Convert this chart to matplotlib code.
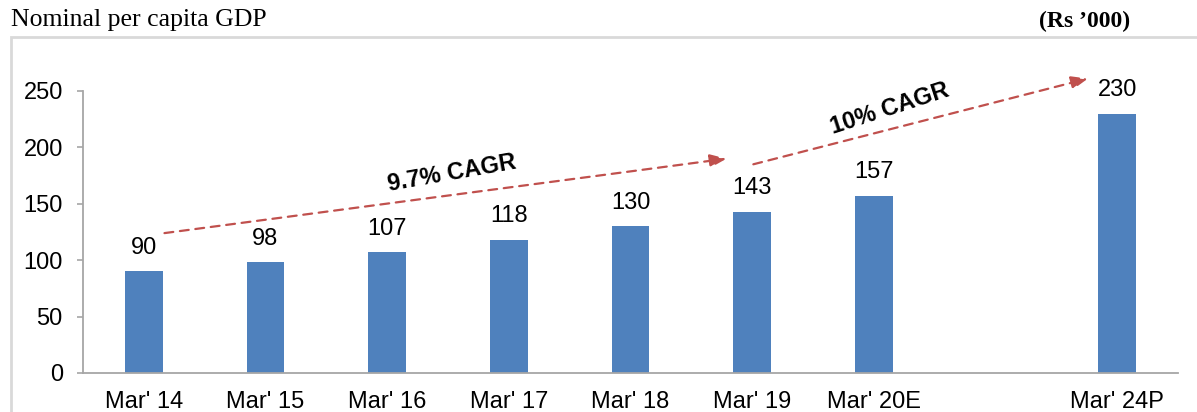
import matplotlib.pyplot as plt
from matplotlib.patches import Rectangle

# ====== Data ======
categories = ["Mar' 14", "Mar' 15", "Mar' 16", "Mar' 17", "Mar' 18",
              "Mar' 19", "Mar' 20E", "", "Mar' 24P"]
gdp = [90, 98, 107, 118, 130, 143, 157, None, 230]

cagr_labels = ["9.7% CAGR", "10% CAGR"]
# arrow start/end (x in category index, y in Rs '000)
cagr_arrows = [((0.17, 124), (4.79, 190)), ((5.01, 185), (7.76, 261))]
cagr_text_pos = [(2.53, 177), (6.13, 234)]
cagr_text_rot = [10, 18]

BAR_COLOR = '#4F81BD'
ARROW_COLOR = '#C0504D'
AXIS_COLOR = '#A6A6A6'

plt.rcParams['font.family'] = ['Liberation Sans', 'DejaVu Sans']

fig = plt.figure(figsize=(11.97, 4.12), dpi=100)
ax = fig.add_axes([0.0693, 0.0947, 0.9148, 0.6845])

xs = [i for i, v in enumerate(gdp) if v is not None]
vals = [v for v in gdp if v is not None]
ax.bar(xs, vals, width=0.31, color=BAR_COLOR)

for x, v in zip(xs, vals):
    ax.annotate(str(v), (x, v), xytext=(0, 9), textcoords='offset points',
                ha='center', va='bottom', fontsize=17)

ax.set_xlim(-0.5, len(categories) - 0.5)
ax.set_ylim(0, 250)
ax.set_yticks(range(0, 251, 50))
ax.set_xticks([i for i, c in enumerate(categories) if c])
ax.set_xticklabels([c for c in categories if c])

ax.tick_params(axis='y', length=4.5, width=1.2, color=AXIS_COLOR, labelsize=17, pad=10)
ax.tick_params(axis='x', length=0, labelsize=17, pad=13)
for s in ['top', 'right']:
    ax.spines[s].set_visible(False)
for s in ['left', 'bottom']:
    ax.spines[s].set_color(AXIS_COLOR)
    ax.spines[s].set_linewidth(1.3)

# CAGR arrows
for (start, end), label, pos, rot in zip(cagr_arrows, cagr_labels, cagr_text_pos, cagr_text_rot):
    ax.annotate('', xy=end, xytext=start, annotation_clip=False,
                arrowprops=dict(arrowstyle='-|>,head_length=1.0,head_width=0.4',
                                color=ARROW_COLOR, lw=1.6, linestyle=(0, (4, 3)),
                                shrinkA=0, shrinkB=0))
    ax.text(pos[0], pos[1], label, fontsize=17, fontweight='bold',
            rotation=rot, ha='center', va='center', clip_on=False,
            rotation_mode='anchor')

# header texts and outer box
fig.text(11 / 1197, 1 - 20 / 412, 'Nominal per capita GDP', family='Liberation Serif',
         fontsize=18.5, ha='left', va='center')
fig.text(1130 / 1197, 1 - 21 / 412, "(Rs \u2019000)", family='Liberation Serif',
         fontsize=17, fontweight='bold', ha='right', va='center')
fig.patches.append(Rectangle((11 / 1197, -0.1), 1.1, 1 - 37 / 412 + 0.1,
                             transform=fig.transFigure, fill=False,
                             edgecolor='#D9D9D9', lw=2))

fig.savefig('out.png', dpi=100)
